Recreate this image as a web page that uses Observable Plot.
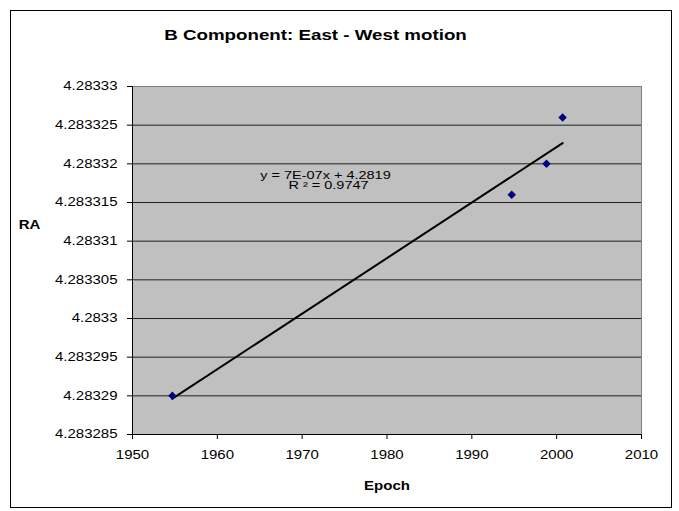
<!DOCTYPE html>
<html><head><meta charset="utf-8">
<script src="https://cdn.jsdelivr.net/npm/d3@7"></script>
<script src="https://cdn.jsdelivr.net/npm/@observablehq/plot@0.6"></script>
<style>html,body{margin:0;padding:0;background:#fff} svg{display:block}</style>
</head><body><div id="chart"></div>
<script>
// ---- data ----
const epochs = [1954.7, 1994.7, 1998.8, 2000.7];
const raValues = [4.28329, 4.283316, 4.28332, 4.283326];
const yTicks = [4.283285, 4.28329, 4.283295, 4.2833, 4.283305, 4.28331, 4.283315, 4.28332, 4.283325, 4.28333];
const yTickLabels = ["4.283285", "4.28329", "4.283295", "4.2833", "4.283305", "4.28331", "4.283315", "4.28332", "4.283325", "4.28333"];
const xTicks = [1950, 1960, 1970, 1980, 1990, 2000, 2010];
const xTickLabels = ["1950", "1960", "1970", "1980", "1990", "2000", "2010"];
const chartTitle = "B Component: East - West motion";
const xLabel = "Epoch";
const yLabel = "RA";
const equationLine1 = "y = 7E-07x + 4.2819";
const equationLine2 = "R ² = 0.9747";

const data = epochs.map((e, i) => ({epoch: e, ra: raValues[i]}));
const yFmt = d => yTickLabels[yTicks.findIndex(t => Math.abs(t - d) < 1e-10)];
const xFmt = d => xTickLabels[xTicks.indexOf(d)];

const outerBorder = () => {
  const r = document.createElementNS("http://www.w3.org/2000/svg", "rect");
  r.setAttribute("x", 10.5); r.setAttribute("y", 10.5);
  r.setAttribute("width", 661); r.setAttribute("height", 497);
  r.setAttribute("fill", "none"); r.setAttribute("stroke", "#000");
  return r;
};

const plot = Plot.plot({
  width: 679, height: 511,
  marginLeft: 132, marginRight: 38, marginTop: 86, marginBottom: 77,
  style: {fontFamily: "'Liberation Sans', Arial, sans-serif", fontSize: "12px", color: "#000", background: "#fff", overflow: "visible"},
  x: {domain: [1950, 2010], label: null},
  y: {domain: [4.283285, 4.28333], label: null},
  marks: [
    outerBorder,
    Plot.frame({fill: "#c0c0c0", stroke: "#808080"}),
    Plot.ruleY(yTicks.slice(1, -1), {stroke: "#222", strokeWidth: 1}),
    Plot.ruleX([1950], {stroke: "#000"}),
    Plot.ruleY([4.283285], {stroke: "#000"}),
    Plot.axisY({ticks: yTicks, tickFormat: yFmt, tickSize: 5, tickPadding: 10, label: null, stroke: "#000", fontSize: 12}),
    Plot.axisX({ticks: xTicks, tickFormat: xFmt, tickSize: 5, tickPadding: 11, label: null, stroke: "#000", fontSize: 12}),
    Plot.linearRegressionY(data, {x: "epoch", y: "ra", stroke: "#000", strokeWidth: 2, ci: 0}),
    Plot.dot(data, {x: "epoch", y: "ra", symbol: "diamond2", r: 3.8, fill: "#000080", stroke: "none"}),
    Plot.text([chartTitle], {frameAnchor: "top-left", dx: 183, dy: -51, textAnchor: "middle", lineAnchor: "middle", fontWeight: "bold", fontSize: 15}),
    Plot.text([yLabel], {frameAnchor: "left", dx: -103, dy: -35, textAnchor: "middle", lineAnchor: "middle", fontWeight: "bold", fontSize: 12}),
    Plot.text([xLabel], {frameAnchor: "bottom", dy: 52, textAnchor: "middle", lineAnchor: "middle", fontWeight: "bold", fontSize: 12}),
    Plot.text([equationLine1], {frameAnchor: "top-left", dx: 193, dy: 89, textAnchor: "middle", lineAnchor: "middle", fontSize: 10, className: "eqn"}),
    Plot.text([equationLine2], {frameAnchor: "top-left", dx: 196, dy: 99, textAnchor: "middle", lineAnchor: "middle", fontSize: 10, className: "eqn"})
  ]
});

// horizontally stretched text, as in the reference picture
plot.querySelectorAll("text").forEach(t => {
  const inEqn = t.closest(".eqn");
  const s = inEqn ? 1.45 : 1.25;
  t.setAttribute("transform", (t.getAttribute("transform") || "") + ` scale(${s},1)`);
});
document.getElementById("chart").appendChild(plot);
</script>
</body></html>
